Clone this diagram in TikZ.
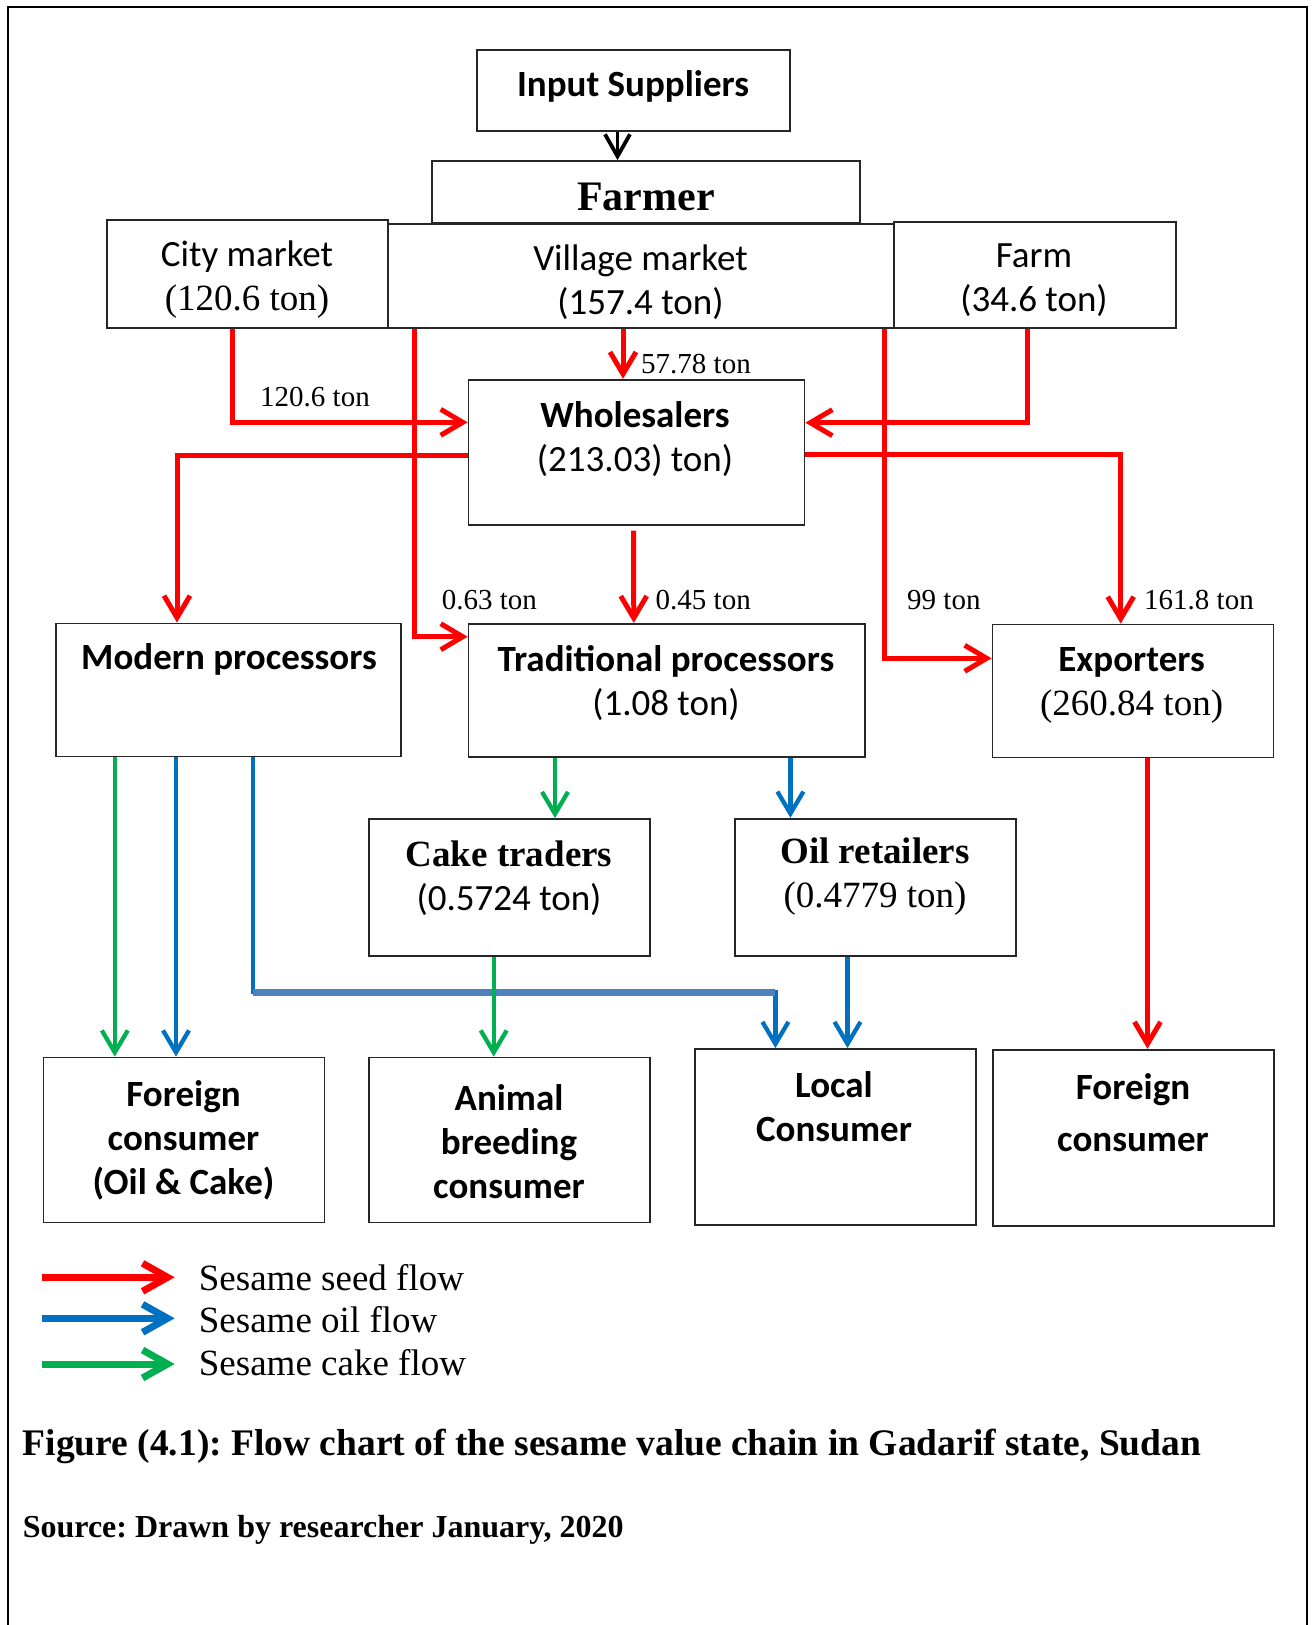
\documentclass[tikz,border=0pt]{standalone}
\usepackage{fontspec}
\setmainfont{Liberation Serif}
\newfontfamily\carlito{Carlito}
\usetikzlibrary{arrows.meta}
\frenchspacing
\definecolor{seedred}{HTML}{FF0000}
\definecolor{oilblue}{HTML}{0070C0}
\definecolor{cakegreen}{HTML}{00B050}
\definecolor{barblue}{HTML}{4F81BD}
\tikzset{
  box/.style={draw=black!85, line width=1.8pt, inner sep=0pt, minimum width=281pt},
  boxtxt/.style={align=center, inner sep=0pt, font=\carlito\fontsize{37}{44}\selectfont},
  boldtxt/.style={boxtxt, font=\carlito\bfseries\fontsize{37}{44}\selectfont},
  flow/.style={line width=4.5pt, -{Straight Barb[length=22pt,width=26pt]}},
  seed/.style={flow, seedred, line width=5pt},
  oil/.style={flow, oilblue, line width=4.3pt},
  cake/.style={flow, cakegreen, line width=4.3pt},
  lab/.style={inner sep=0pt, anchor=base west, font=\fontsize{29}{34}\selectfont},
  legendarrow/.style={line width=7pt, -{Straight Barb[length=25pt,width=28pt]}},
  legendtxt/.style={inner sep=0pt, anchor=base west, font=\fontsize{37}{44}\selectfont},
}
\begin{document}
\begin{tikzpicture}[x=1pt,y=-1pt]
\useasboundingbox (0,0) rectangle (1312,1625);
\draw[line width=2pt] (8,1625) -- (8,7) -- (1307,7) -- (1307,1625);

% boxes
\node[box, minimum width=313pt, minimum height=81pt] (sup) at (633.5,90.5) {};
\node[box, minimum width=428pt, minimum height=62pt] (farmer) at (646,192) {};
\node[box, minimum height=108pt] (city) at (247.5,274) {};
\node[box, minimum width=506pt, minimum height=104pt] (vill) at (641,276) {};
\node[box, minimum width=282pt, minimum height=106pt] (farm) at (1035,275) {};
\node[box, minimum width=336pt, minimum height=145pt] (whole) at (636.5,452.3) {};
\node[box, minimum width=345pt, minimum height=133pt] (mod) at (228.4,690) {};
\node[box, minimum width=396.5pt, minimum height=133pt] (trad) at (666.8,690.3) {};
\node[box, minimum height=133pt] (exp) at (1133,691) {};
\node[box, minimum height=137pt] (cake) at (509.2,887.5) {};
\node[box, minimum height=137pt] (oil) at (875.5,887.2) {};
\node[box, minimum height=165pt] (fcoc) at (184,1140) {};
\node[box, minimum height=165pt] (animal) at (509.2,1140) {};
\node[box, minimum height=176pt] (local) at (835.3,1137) {};
\node[box, minimum height=176pt] (fc) at (1133.3,1137.7) {};

% box texts
\node[boldtxt] (supt) at (633,86) {Input Suppliers};
\node[boxtxt] (farmert) at (646,197) {\rmfamily\bfseries\fontsize{42}{50}\selectfont Farmer};
\node[boxtxt] (cityt) at (247,280) {City market\\\rmfamily(120.6 ton)};
\node[boxtxt] (villt) at (640.5,282) {Village market\\(157.4 ton)};
\node[boxtxt] (farmt) at (1034,280) {Farm\\(34.6 ton)};
\node[boxtxt] (wholet) at (635,439) {\bfseries Wholesalers\\(213.03) ton)};
\node[boldtxt] (modt) at (229,659) {Modern processors};
\node[boxtxt] (tradt) at (666,683) {\bfseries Traditional processors\\(1.08 ton)};
\node[boxtxt] (expt) at (1131.6,685) {\bfseries Exporters\\\rmfamily(260.84 ton)};
\node[boxtxt] (caket) at (509,878) {\rmfamily\bfseries Cake traders\\(0.5724 ton)};
\node[boxtxt] (oilt) at (875,876.5) {\rmfamily\bfseries Oil retailers\\\rmfamily(0.4779 ton)};
\node[boldtxt] (fcoct) at (183.5,1140) {Foreign\\consumer\\(Oil \& Cake)};
\node[boldtxt] (animalt) at (509,1141.5) {Animal\\breeding\\consumer};
\node[boldtxt] (localt) at (834,1106.5) {Local\\Consumer};
\node[boldtxt] (fct) at (1133,1113) {Foreign\\[8pt]consumer};

% quantities
\node[lab] (l57) at (641,373) {57.78 ton};
\node[lab] (l120) at (260,406) {120.6 ton};
\node[lab] (l063) at (441.7,609) {0.63 ton};
\node[lab] (l045) at (655.5,609) {0.45 ton};
\node[lab] (l99) at (907,609) {99 ton};
\node[lab] (l161) at (1144,609) {161.8 ton};

% seed flows
\draw[line width=3.8pt, -{Straight Barb[length=22pt,width=25pt]}] ([xshift=-16pt]sup.south) -- ([xshift=-16pt]sup.south |- farmer.north);
\draw[seed] ([xshift=-15.5pt]city.south) |- ([yshift=30pt]whole.west);
\draw[seed] ([xshift=-18pt]vill.south) -- ([xshift=-18pt]vill.south |- whole.north);
\draw[seed] ([xshift=-227pt]vill.south) |- ([yshift=53.6pt]trad.west);
\draw[seed] ([xshift=243pt]vill.south) |- ([yshift=32.7pt]exp.west);
\draw[seed] ([xshift=-7.3pt]farm.south) |- ([yshift=29.6pt]whole.east);
\draw[seed] ([yshift=-2.7pt]whole.west) -| ([xshift=-51.4pt]mod.north);
\draw[seed] ([yshift=-2.4pt]whole.east) -| ([xshift=-12.3pt]exp.north);
\draw[seed] ([xshift=-3pt,yshift=-5pt]whole.south) -- ([xshift=-33pt]trad.north);
\draw[seed] ([xshift=14.5pt]exp.south) -- ([xshift=14.5pt]exp.south |- fc.north);

% oil and cake flows
\coordinate (b1) at (253,992.3);
\coordinate (b2) at (775.4,992.3);
\draw[oil] (mod.south -| b1) -- (b1) -- (b2) -- (b2 |- local.north);
\draw[barblue, line width=6.7pt] (b1) -- (b2);
\draw[cake] ([xshift=-113.6pt]mod.south) -- ([xshift=-113.6pt]mod.south |- fcoc.north);
\draw[oil] ([xshift=-52.4pt]mod.south) -- ([xshift=-52.4pt]mod.south |- fcoc.north);
\draw[cake] ([xshift=-111.8pt]trad.south) -- ([xshift=-111.8pt]trad.south |- cake.north);
\draw[oil] ([xshift=123.6pt]trad.south) -- ([xshift=123.6pt]trad.south |- oil.north);
\draw[cake] ([xshift=-15.5pt]cake.south) -- ([xshift=-15.5pt]cake.south |- animal.north);
\draw[oil] ([xshift=-28pt]oil.south) -- ([xshift=-28pt]oil.south |- local.north);

% legend
\node[legendtxt] (seedk) at (198.7,1290.6) {Sesame seed flow};
\node[legendtxt] (oilk) at (198.7,1332.6) {Sesame oil flow};
\node[legendtxt] (cakek) at (198.7,1375.6) {Sesame cake flow};
\coordinate (seedc) at (42,1277.3);
\coordinate (oilc) at (42,1318.3);
\coordinate (cakec) at (42,1364);
\draw[legendarrow, seedred] (seedc) -- ([xshift=-24pt]seedk.west |- seedc);
\draw[legendarrow, oilblue] (oilc) -- ([xshift=-24pt]oilk.west |- oilc);
\draw[legendarrow, cakegreen] (cakec) -- ([xshift=-24pt]cakek.west |- cakec);

% caption
\node[anchor=base west, inner sep=0pt, font=\bfseries\fontsize{37.5}{44}\selectfont] (cap) at (22.6,1455.5) {Figure (4.1): Flow chart of the sesame value chain in Gadarif state, Sudan};
\node[anchor=base west, inner sep=0pt, font=\bfseries\fontsize{32}{38}\selectfont] (src) at (22.6,1537.5) {Source: Drawn by researcher January, 2020};
\end{tikzpicture}
\end{document}
